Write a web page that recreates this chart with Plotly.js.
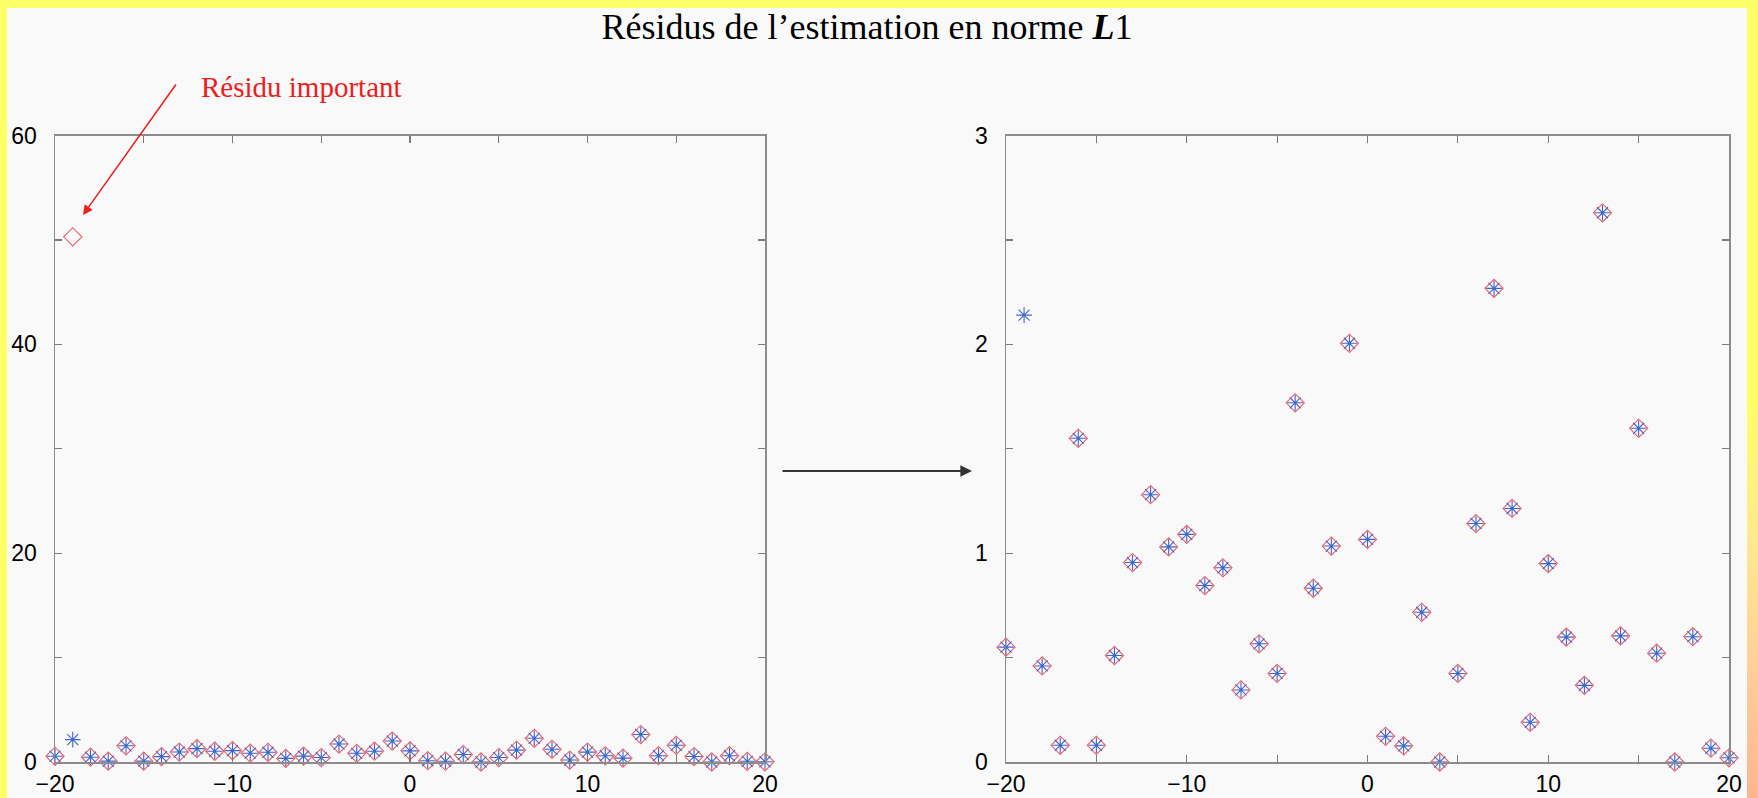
<!DOCTYPE html>
<html>
<head>
<meta charset="utf-8">
<script src="https://cdn.plot.ly/plotly-3.0.1.min.js"></script>
<style>
  html, body { margin: 0; padding: 0; }
  body { width: 1758px; height: 798px; background: #ffff66; position: relative; overflow: hidden; }
  #strip { position: absolute; left: 1747px; top: 0; width: 11px; height: 798px;
           background: linear-gradient(to bottom, #ffff66 0%, #ffff66 50%, #ffe890 68%, #ffcc99 85%, #ffb58f 100%); }
  #chart { position: absolute; left: 7px; top: 8px; width: 1740px; height: 790px; }
</style>
</head>
<body>
<div id="strip"></div>
<div id="chart"></div>
<script>
// Abscisses (indices des observations)
const abscisses = [-20,-19,-18,-17,-16,-15,-14,-13,-12,-11,-10,-9,-8,-7,-6,-5,-4,-3,-2,-1,0,
                   1,2,3,4,5,6,7,8,9,10,11,12,13,14,15,16,17,18,19,20];

// Résidus de l'estimation L1 (astérisques bleus)
const residusL1 = [0.55,2.14,0.46,0.08,1.55,0.08,0.51,0.955,1.28,1.03,1.09,0.845,0.93,0.345,0.566,0.424,1.72,0.832,1.034,2.005,1.066,
                   0.123,0.077,0.717,0.0,0.424,1.142,2.268,1.214,0.19,0.95,0.598,0.367,2.63,0.604,1.598,0.521,0.0,0.6,0.066,0.02];

// Résidus avec la donnée aberrante (losanges rouges)
const residusDonnees = [0.55,50.3,0.46,0.08,1.55,0.08,0.51,0.955,1.28,1.03,1.09,0.845,0.93,0.345,0.566,0.424,1.72,0.832,1.034,2.005,1.066,
                        0.123,0.077,0.717,0.0,0.424,1.142,2.268,1.214,0.19,0.95,0.598,0.367,2.63,0.604,1.598,0.521,0.0,0.6,0.066,0.02];

const xTicks = [-20,-10,0,10,20];
const yTicksGauche = [0,20,40,60];
const yTicksDroite = [0,1,2,3];

const titre = 'Résidus de l’estimation en norme <b><i>L</i></b>1';
const note = 'Résidu important';

const diamond = { symbol: 'diamond-open', size: 14, color: 'rgb(236,95,105)', line: { color: 'rgb(236,95,105)', width: 1.1 } };
const star = { symbol: 'asterisk-open', size: 13, color: 'rgb(65,100,205)', line: { color: 'rgb(65,100,205)', width: 1.1 } };

const traces = [
  { x: abscisses, y: residusDonnees, xaxis: 'x', yaxis: 'y', mode: 'markers', type: 'scatter', marker: diamond, cliponaxis: false },
  { x: abscisses, y: residusL1, xaxis: 'x', yaxis: 'y', mode: 'markers', type: 'scatter', marker: star, cliponaxis: false },
  { x: abscisses, y: residusDonnees, xaxis: 'x2', yaxis: 'y2', mode: 'markers', type: 'scatter', marker: diamond, cliponaxis: false },
  { x: abscisses, y: residusL1, xaxis: 'x2', yaxis: 'y2', mode: 'markers', type: 'scatter', marker: star, cliponaxis: false }
];

const W = 1740, H = 790;
const tickFont = { family: 'Liberation Sans, Arial, sans-serif', size: 23, color: '#000' };
const axisCommon = {
  showgrid: false, zeroline: false, showline: true, linecolor: '#8c8c8c', linewidth: 1.5,
  mirror: 'ticks', ticks: 'inside', ticklen: 7, tickwidth: 1.2, tickcolor: '#7a7a7a',
  tickfont: tickFont, fixedrange: true
};
function xa(domain) {
  return Object.assign({}, axisCommon, {
    domain: domain, range: [-20, 20], tickmode: 'array', tickvals: xTicks, ticktext: xTicks.map(v => v < 0 ? '\u2212' + (-v) : String(v)),
    minor: { dtick: 5, tick0: 0, ticks: 'inside', ticklen: 7, tickwidth: 1.2, tickcolor: '#7a7a7a' },
    ticklabelstandoff: 1
  });
}
function ya(range, vals, minorStep) {
  return Object.assign({}, axisCommon, {
    domain: [36 / H, (H - 127.5) / H], range: range, tickmode: 'array', tickvals: vals, ticktext: vals.map(String),
    minor: { dtick: minorStep, tick0: 0, ticks: 'inside', ticklen: 7, tickwidth: 1.2, tickcolor: '#7a7a7a' },
    ticklabelstandoff: 12
  });
}

const layout = {
  width: W, height: H,
  margin: { l: 0, r: 0, t: 0, b: 0 },
  paper_bgcolor: '#f9f9f9', plot_bgcolor: '#f9f9f9',
  showlegend: false,
  title: { text: titre, x: 860 / W, xanchor: 'center', y: 1 - 18 / H, yanchor: 'middle',
           font: { family: 'Liberation Serif, Times New Roman, serif', size: 36, color: '#000' } },
  xaxis: xa([48 / W, 758 / W]),
  yaxis: Object.assign(ya([0, 60], yTicksGauche, 10), { anchor: 'x' }),
  xaxis2: Object.assign(xa([999 / W, 1722 / W]), { anchor: 'y2' }),
  yaxis2: Object.assign(ya([0, 3], yTicksDroite, 0.5), { anchor: 'x2' }),
  annotations: [
    { xref: 'paper', yref: 'paper', x: 965 / W, y: 1 - 463 / H, ax: -191, ay: 0, axref: 'pixel', ayref: 'pixel',
      text: '', showarrow: true, arrowhead: 2, arrowsize: 1.3, arrowwidth: 1.8, arrowcolor: '#333' },
    { xref: 'paper', yref: 'paper', x: 76 / W, y: 1 - 207 / H, ax: 94, ay: -132, axref: 'pixel', ayref: 'pixel',
      text: '', showarrow: true, arrowhead: 2, arrowsize: 1.3, arrowwidth: 1.5, arrowcolor: '#f01c1c' },
    { xref: 'paper', yref: 'paper', x: 192 / W, y: 1 - 79 / H, xanchor: 'left', yanchor: 'middle', showarrow: false,
      text: note, font: { family: 'Liberation Serif, Times New Roman, serif', size: 29, color: '#f01c1c' } }
  ]
};

Plotly.newPlot('chart', traces, layout, { displayModeBar: false, staticPlot: true });
</script>
</body>
</html>
